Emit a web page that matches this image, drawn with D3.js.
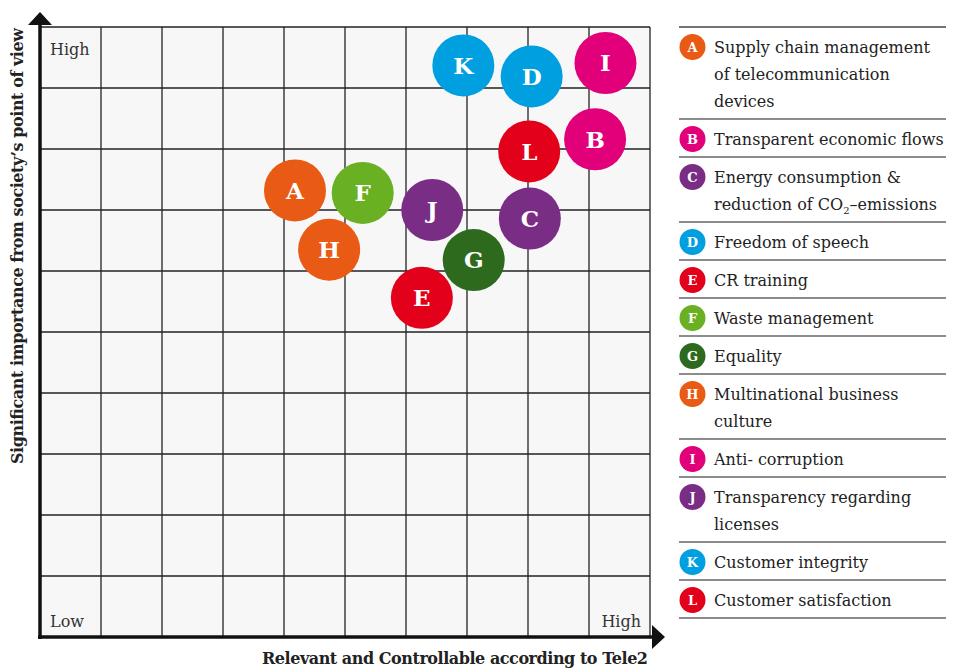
<!DOCTYPE html>
<html>
<head>
<meta charset="utf-8">
<script src="https://cdn.jsdelivr.net/npm/d3@7"></script>
<style>
  body { margin: 0; background: #fff; }
  svg { display: block; font-family: "DejaVu Serif", serif; }
</style>
</head>
<body>
<svg id="chart" width="960" height="668"></svg>
<script>
// Issue letters, positions on the 0-10 grid, colours
const letters = ["A", "B", "C", "D", "E", "F", "G", "H", "I", "J", "K", "L"];
const xValues = [4.18, 9.10, 8.03, 8.06, 6.26, 5.29, 7.11, 4.74, 9.27, 6.43, 6.94, 8.02];
const yValues = [7.32, 8.16, 6.86, 9.19, 5.56, 7.28, 6.18, 6.35, 9.41, 7.00, 9.37, 7.96];
const colours = ["#e95a14", "#e2007a", "#7a2d85", "#009fdf", "#e2001a", "#6ab023",
                 "#2d6a1e", "#e95a14", "#e2007a", "#7a2d85", "#009fdf", "#e2001a"];
// legend labels, one array of lines per issue ("_2" marks the CO2 subscript)
const legendLines = [
    ["Supply chain management", "of telecommunication", "devices"],
    ["Transparent economic flows"],
    ["Energy consumption &", "reduction of CO_2–emissions"],
    ["Freedom of speech"],
    ["CR training"],
    ["Waste management"],
    ["Equality"],
    ["Multinational business", "culture"],
    ["Anti- corruption"],
    ["Transparency regarding", "licenses"],
    ["Customer integrity"],
    ["Customer satisfaction"]
];
const xTitle = "Relevant and Controllable according to Tele2";
const yTitle = "Significant importance from society’s point of view";

const svg = d3.select("#chart");
const gLeft = 40, gTop = 27, gRight = 650, gBottom = 637;

const x = d3.scaleLinear().domain([0, 10]).range([gLeft, gRight]);
const y = d3.scaleLinear().domain([0, 10]).range([gBottom, gTop]);

// grid background
svg.append("rect")
    .attr("x", gLeft).attr("y", gTop)
    .attr("width", gRight - gLeft).attr("height", gBottom - gTop)
    .attr("fill", "#f7f7f7");

const grid = svg.append("g").attr("stroke", "#222").attr("stroke-width", 1.3);
d3.range(1, 11).forEach(i => {
    grid.append("line").attr("x1", x(i)).attr("x2", x(i)).attr("y1", gTop).attr("y2", gBottom);
});
d3.range(1, 11).forEach(i => {
    grid.append("line").attr("x1", gLeft).attr("x2", gRight).attr("y1", y(i)).attr("y2", y(i));
});

// axes with arrow heads
svg.append("line").attr("x1", gLeft).attr("x2", gLeft).attr("y1", gBottom + 2).attr("y2", 24)
    .attr("stroke", "#111").attr("stroke-width", 3.5);
svg.append("path").attr("d", `M${gLeft - 12},25 L${gLeft},12 L${gLeft + 12},25 Z`).attr("fill", "#111");
svg.append("line").attr("x1", gLeft - 2).attr("x2", 654).attr("y1", gBottom).attr("y2", gBottom)
    .attr("stroke", "#111").attr("stroke-width", 3.5);
svg.append("path").attr("d", `M652,${gBottom - 12} L665,${gBottom} L652,${gBottom + 12} Z`).attr("fill", "#111");

// corner labels
const corner = svg.append("g").attr("font-size", 16).attr("fill", "#333");
corner.append("text").attr("x", 50).attr("y", 55).text("High");
corner.append("text").attr("x", 50).attr("y", 627).text("Low");
corner.append("text").attr("x", 641).attr("y", 627).attr("text-anchor", "end").text("High");

// axis titles
svg.append("text")
    .attr("x", 455).attr("y", 664)
    .attr("text-anchor", "middle")
    .attr("font-size", 16).attr("font-weight", "bold").attr("fill", "#222")
    .attr("textLength", 386)
    .text(xTitle);
svg.append("text")
    .attr("transform", "translate(23,246) rotate(-90)")
    .attr("text-anchor", "middle")
    .attr("font-size", 16).attr("font-weight", "bold").attr("fill", "#222")
    .attr("textLength", 436)
    .text(yTitle);

// bubbles
const bubbles = svg.append("g").selectAll("g")
    .data(letters)
    .join("g")
    .attr("transform", (d, i) => `translate(${x(xValues[i])},${y(yValues[i])})`);
bubbles.append("circle").attr("r", 31).attr("fill", (d, i) => colours[i]);
bubbles.append("text")
    .attr("text-anchor", "middle").attr("dy", "0.36em")
    .attr("font-size", 23).attr("font-weight", "bold").attr("fill", "#fff")
    .text(d => d);

// legend
const legX1 = 679, legX2 = 946, rowBase = 38, lineStep = 27;
const legend = svg.append("g");
let rowTop = 27;
legend.append("line").attr("x1", legX1).attr("x2", legX2).attr("y1", rowTop).attr("y2", rowTop)
    .attr("stroke", "#444").attr("stroke-width", 1.4);
letters.forEach((letter, i) => {
    const lines = legendLines[i];
    const item = legend.append("g");
    item.append("circle").attr("cx", 692.5).attr("cy", rowTop + 20).attr("r", 13).attr("fill", colours[i]);
    item.append("text").attr("x", 692.5).attr("y", rowTop + 20).attr("dy", "0.36em")
        .attr("text-anchor", "middle").attr("font-size", 13).attr("font-weight", "bold")
        .attr("fill", "#fff").text(letter);
    lines.forEach((ln, j) => {
        const t = item.append("text").attr("x", 714).attr("y", rowTop + 26 + j * lineStep)
            .attr("font-size", 16).attr("fill", "#222");
        if (ln.includes("_2")) {
            const [a, b] = ln.split("_2");
            t.append("tspan").text(a);
            t.append("tspan").attr("font-size", 10).attr("dy", 4).text("2");
            t.append("tspan").attr("dy", -4).text(b);
        } else {
            t.text(ln);
        }
    });
    rowTop += rowBase + (lines.length - 1) * lineStep;
    legend.append("line").attr("x1", legX1).attr("x2", legX2).attr("y1", rowTop).attr("y2", rowTop)
        .attr("stroke", "#666").attr("stroke-width", 1.4);
});
</script>
</body>
</html>
